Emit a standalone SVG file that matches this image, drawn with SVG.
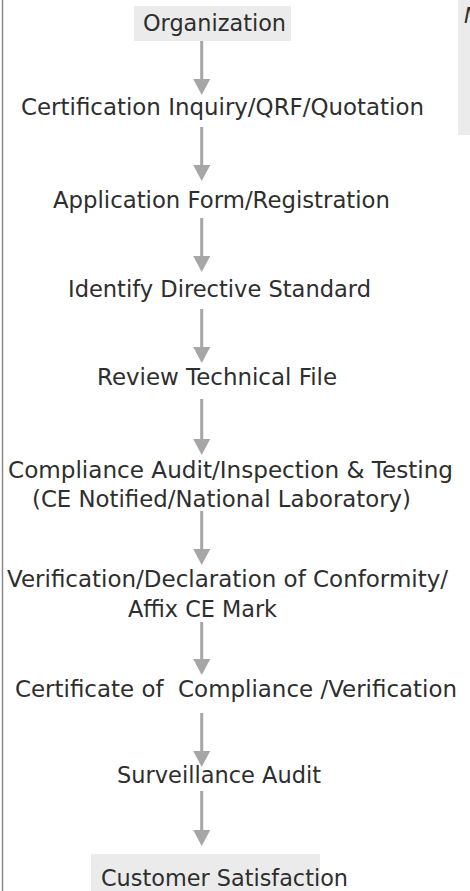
<svg xmlns="http://www.w3.org/2000/svg" width="470" height="891" viewBox="0 0 470 891">
<style>
.t{font-family:"DejaVu Sans","Liberation Sans",sans-serif;font-size:23px;fill:#2e2e2e}
.box{fill:#ebebeb}
.c{stroke:#a6a6a6;stroke-width:3;fill:none}
</style>
<defs>
<marker id="ah" markerUnits="userSpaceOnUse" markerWidth="17" markerHeight="17" viewBox="0 0 16 17" refX="0" refY="8.5" orient="auto">
<path d="M0,0 L16,8.5 L0,17 Z" fill="#a6a6a6"/>
</marker>
</defs>
<rect x="0" y="0" width="470" height="891" fill="#ffffff"/>
<line x1="2.5" y1="0" x2="2.5" y2="891" stroke="#858585" stroke-width="1.4"/>
<g id="note">
<rect class="box" x="458" y="0" width="12" height="135"/>
<text x="464" y="23" font-family="DejaVu Sans, sans-serif" font-size="21" font-style="italic" fill="#2e2e2e">M</text>
</g>
<g id="connectors">
<line class="c" x1="201.7" y1="41" x2="201.7" y2="79" marker-end="url(#ah)"/>
<line class="c" x1="201.7" y1="127" x2="201.7" y2="165" marker-end="url(#ah)"/>
<line class="c" x1="201.7" y1="218" x2="201.7" y2="256" marker-end="url(#ah)"/>
<line class="c" x1="201.7" y1="309" x2="201.7" y2="347" marker-end="url(#ah)"/>
<line class="c" x1="201.7" y1="399" x2="201.7" y2="439" marker-end="url(#ah)"/>
<line class="c" x1="201.7" y1="511" x2="201.7" y2="549" marker-end="url(#ah)"/>
<line class="c" x1="201.7" y1="622" x2="201.7" y2="659" marker-end="url(#ah)"/>
<line class="c" x1="201.7" y1="713" x2="201.7" y2="751" marker-end="url(#ah)"/>
<line class="c" x1="201.7" y1="791" x2="201.7" y2="830" marker-end="url(#ah)"/>
</g>
<g id="n1">
<rect class="box" x="134" y="6" width="157" height="35"/>
<text class="t" x="143" y="30.5" textLength="143" lengthAdjust="spacingAndGlyphs">Organization</text>
</g>
<g id="n2"><text class="t" x="21" y="114.5" textLength="403" lengthAdjust="spacingAndGlyphs">Certification Inquiry/QRF/Quotation</text></g>
<g id="n3"><text class="t" x="53" y="208.3" textLength="337" lengthAdjust="spacingAndGlyphs">Application Form/Registration</text></g>
<g id="n4"><text class="t" x="68" y="296.7" textLength="303" lengthAdjust="spacingAndGlyphs">Identify Directive Standard</text></g>
<g id="n5"><text class="t" x="97" y="385" textLength="240" lengthAdjust="spacingAndGlyphs">Review Technical File</text></g>
<g id="n6">
<text class="t" x="8" y="478.3" textLength="445" lengthAdjust="spacingAndGlyphs">Compliance Audit/Inspection &amp; Testing</text>
<text class="t" x="32" y="506.7" textLength="379" lengthAdjust="spacingAndGlyphs">(CE Notified/National Laboratory)</text>
</g>
<g id="n7">
<text class="t" x="7" y="586.7" textLength="441" lengthAdjust="spacingAndGlyphs">Verification/Declaration of Conformity/</text>
<text class="t" x="128" y="616.7" textLength="149" lengthAdjust="spacingAndGlyphs">Affix CE Mark</text>
</g>
<g id="n8"><text class="t" x="15" y="696.7" textLength="442" lengthAdjust="spacingAndGlyphs" xml:space="preserve">Certificate of  Compliance /Verification</text></g>
<g id="n9"><text class="t" x="117" y="783" textLength="204" lengthAdjust="spacingAndGlyphs">Surveillance Audit</text></g>
<g id="n10">
<rect class="box" x="91" y="854" width="229" height="37"/>
<text class="t" x="101" y="885.7" textLength="247" lengthAdjust="spacingAndGlyphs">Customer Satisfaction</text>
</g>
</svg>
